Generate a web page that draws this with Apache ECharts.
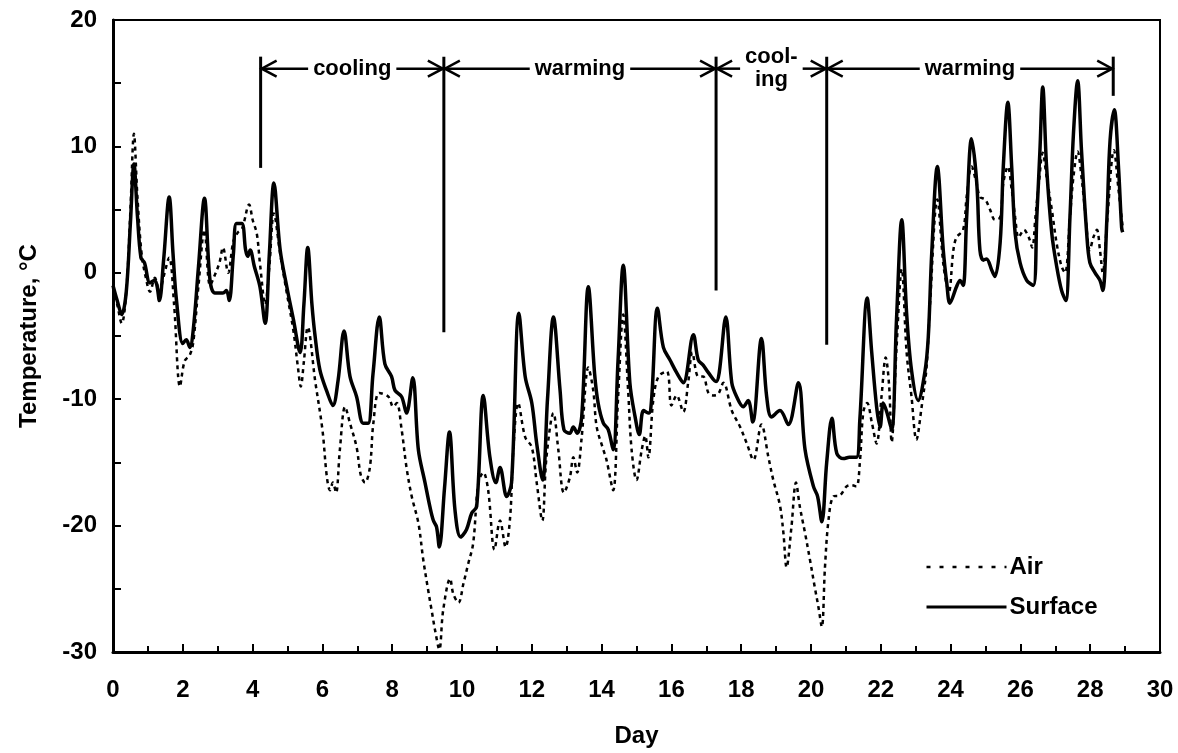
<!DOCTYPE html>
<html>
<head>
<meta charset="utf-8">
<script src="https://cdn.jsdelivr.net/npm/echarts@6/dist/echarts.min.js"></script>
<style>
html,body{margin:0;padding:0;background:#fff;}
#chart{width:1178px;height:753px;}
</style>
</head>
<body>
<div id="chart"></div>
<script>
// ---- Data ----
const surfaceDay = [0.00,0.12,0.25,0.38,0.50,0.60,0.70,0.80,0.90,1.06,1.18,1.25,1.33,1.45,1.61,1.72,1.82,2.00,2.10,2.20,2.30,2.45,2.62,2.78,2.92,3.15,3.25,3.33,3.45,3.54,3.69,3.80,3.86,3.93,4.05,4.21,4.36,4.48,4.61,4.79,4.98,5.17,5.36,5.47,5.58,5.70,5.79,5.93,6.13,6.30,6.45,6.62,6.79,6.98,7.17,7.31,7.45,7.63,7.79,7.98,8.08,8.27,8.41,8.59,8.75,8.94,9.08,9.18,9.27,9.35,9.50,9.64,9.80,9.96,10.13,10.28,10.42,10.61,10.80,10.97,11.09,11.28,11.42,11.63,11.81,12.00,12.14,12.31,12.45,12.62,12.81,12.92,13.09,13.19,13.30,13.43,13.62,13.80,13.90,14.05,14.19,14.33,14.47,14.62,14.81,14.96,15.08,15.20,15.35,15.43,15.60,15.77,15.96,16.15,16.34,16.63,16.77,16.91,17.06,17.28,17.37,17.56,17.73,17.87,18.06,18.20,18.33,18.58,18.73,18.87,19.11,19.35,19.64,19.83,20.07,20.19,20.31,20.45,20.60,20.74,20.93,21.10,21.30,21.40,21.61,21.74,21.88,21.98,22.07,22.17,22.31,22.45,22.60,22.74,22.88,23.07,23.26,23.36,23.46,23.62,23.79,23.89,23.98,24.17,24.27,24.36,24.46,24.60,24.75,24.84,24.94,25.03,25.18,25.27,25.42,25.51,25.64,25.75,25.85,25.99,26.18,26.37,26.47,26.56,26.64,26.75,26.90,27.04,27.18,27.30,27.42,27.52,27.64,27.75,27.90,27.99,28.14,28.28,28.36,28.48,28.57,28.69,28.81,28.90,28.93];
const surfaceTemp = [-1.0,-2.2,-3.3,-1.5,4.0,8.6,4.5,1.2,0.8,-0.8,-0.6,-0.9,-2.2,1.0,6.0,1.5,-2.2,-5.6,-5.3,-5.9,-4.5,0.5,5.9,-0.6,-1.6,-1.6,-1.4,-2.2,1.5,3.9,3.9,1.8,1.3,1.8,0.5,-1.1,-4.0,1.5,7.1,1.8,-1.1,-3.7,-6.3,-2.5,2.0,-2.5,-5.0,-7.7,-9.4,-10.5,-8.5,-4.6,-8.2,-9.8,-11.9,-11.9,-8.0,-3.5,-7.2,-8.2,-9.3,-9.8,-11.1,-8.3,-14.0,-16.6,-18.5,-19.6,-20.1,-21.7,-17.0,-12.6,-18.8,-20.9,-20.3,-19.0,-18.5,-9.7,-14.6,-16.6,-15.4,-17.7,-16.6,-3.2,-8.2,-10.3,-13.5,-16.4,-10.0,-3.5,-9.3,-12.4,-12.7,-12.2,-12.7,-11.4,-1.1,-8.0,-10.3,-11.9,-12.4,-14.0,-7.0,0.6,-8.7,-11.4,-12.8,-10.9,-11.1,-10.1,-2.8,-5.9,-6.9,-7.9,-8.7,-4.9,-6.9,-7.3,-7.9,-8.6,-7.9,-3.5,-8.7,-9.8,-10.6,-10.1,-11.8,-5.2,-9.8,-11.4,-10.9,-12.0,-8.7,-14.0,-16.9,-17.7,-19.7,-15.0,-11.5,-14.3,-14.7,-14.6,-14.6,-11.6,-2.0,-6.3,-10.6,-12.2,-10.3,-11.0,-12.4,-3.7,4.2,-3.2,-7.7,-10.1,-7.9,-5.1,1.6,8.4,1.8,-0.8,-2.4,-1.1,-0.6,-1.0,4.4,10.6,7.1,1.8,1.0,1.1,0.2,-0.3,2.4,8.4,13.5,8.4,3.1,0.8,-0.6,-1.0,4.4,9.7,14.7,8.4,3.1,0.5,-1.4,-2.2,4.4,11.0,15.2,9.7,3.1,0.8,0.0,-0.6,-1.4,4.4,10.5,12.9,8.4,3.6,3.2];

const airDay = [0.00,0.12,0.25,0.38,0.50,0.60,0.70,0.82,0.95,1.06,1.20,1.33,1.45,1.61,1.75,1.92,2.05,2.20,2.30,2.45,2.62,2.78,2.90,3.05,3.15,3.30,3.45,3.58,3.70,3.90,4.00,4.12,4.22,4.36,4.48,4.61,4.79,4.98,5.17,5.30,5.38,5.47,5.58,5.79,6.00,6.13,6.22,6.30,6.39,6.50,6.65,6.79,6.98,7.10,7.22,7.36,7.46,7.63,7.89,8.03,8.13,8.27,8.41,8.56,8.75,8.89,9.03,9.13,9.23,9.35,9.46,9.66,9.75,9.90,10.04,10.18,10.32,10.47,10.61,10.75,10.93,11.09,11.25,11.38,11.47,11.61,11.81,12.00,12.14,12.30,12.42,12.62,12.76,12.92,13.09,13.19,13.30,13.43,13.62,13.76,13.86,14.05,14.14,14.33,14.47,14.62,14.76,14.86,15.00,15.15,15.25,15.34,15.48,15.63,15.87,16.00,16.15,16.34,16.48,16.60,16.77,16.91,17.06,17.20,17.34,17.49,17.73,17.97,18.16,18.35,18.58,18.78,18.92,19.11,19.21,19.30,19.44,19.57,19.68,19.83,19.97,20.11,20.21,20.31,20.40,20.50,20.64,20.83,21.02,21.16,21.30,21.40,21.50,21.61,21.74,21.88,22.02,22.14,22.24,22.31,22.45,22.60,22.74,22.88,23.02,23.17,23.31,23.41,23.62,23.80,23.95,24.08,24.17,24.36,24.46,24.60,24.75,24.84,24.99,25.13,25.27,25.42,25.51,25.64,25.75,25.85,25.95,26.10,26.24,26.34,26.43,26.53,26.64,26.75,26.90,27.04,27.18,27.28,27.42,27.52,27.64,27.75,27.85,27.99,28.09,28.19,28.28,28.36,28.48,28.68,28.81,28.93];
const airTemp = [-1.2,-2.5,-4.0,-1.5,5.0,11.0,6.0,1.5,-0.5,-1.5,-0.4,-1.5,-0.3,1.2,-2.5,-9.0,-7.0,-6.5,-5.5,-1.0,3.4,-1.0,-0.3,0.8,2.0,0.0,2.5,3.2,3.5,5.4,4.2,3.1,0.5,-2.5,0.5,4.7,1.5,-1.6,-4.6,-7.5,-9.0,-7.0,-4.3,-8.5,-12.4,-16.2,-17.2,-16.6,-17.4,-14.0,-10.6,-11.9,-13.8,-16.0,-16.6,-15.4,-11.9,-9.5,-9.8,-10.6,-10.3,-12.4,-15.4,-17.7,-19.8,-22.7,-25.1,-26.7,-28.3,-29.8,-26.7,-24.2,-25.4,-26.1,-24.6,-23.0,-21.4,-16.6,-15.8,-17.2,-21.9,-19.6,-21.7,-19.3,-14.0,-10.3,-13.0,-13.8,-16.6,-19.6,-14.6,-11.1,-14.0,-17.4,-16.2,-14.6,-15.8,-13.0,-7.5,-9.3,-12.2,-14.0,-14.8,-17.2,-10.0,-3.3,-9.3,-14.0,-16.4,-14.0,-12.9,-14.6,-10.1,-8.2,-7.8,-10.5,-9.7,-11.0,-8.7,-6.3,-8.2,-8.2,-9.5,-9.7,-9.6,-8.7,-10.9,-12.2,-13.5,-14.8,-12.0,-14.6,-16.4,-18.4,-20.6,-23.3,-20.1,-16.6,-18.5,-20.6,-22.7,-24.9,-26.4,-28.0,-23.3,-19.6,-17.7,-17.6,-16.9,-16.8,-16.9,-15.0,-11.0,-10.3,-11.8,-13.5,-9.8,-6.7,-9.0,-13.4,-6.0,0.3,-6.3,-9.8,-13.2,-10.6,-7.5,-2.5,5.8,0.5,-1.5,1.8,2.8,3.4,6.0,8.4,7.0,6.0,5.8,5.0,4.2,4.4,7.1,8.4,6.6,4.4,2.8,3.4,2.8,2.0,4.4,7.1,9.5,7.6,5.0,2.3,0.5,0.0,4.4,7.6,9.6,7.6,5.0,1.8,2.8,3.4,1.8,0.0,3.9,9.7,6.6,3.6];

// period boundaries (day), bottom end of each boundary line (°C)
const phaseBoundaryDay = [4.23, 9.48, 17.28, 20.45, 28.66];
const phaseBoundaryBottom = [8.3, -4.7, -1.4, -5.7, 14.0];
const phaseBoundaryTop = 17.1;
const phaseArrowLevel = 16.15;
const phaseLabels = ['cooling', 'warming', 'cool-\ning', 'warming'];

const xTickLabels = ['0','2','4','6','8','10','12','14','16','18','20','22','24','26','28','30'];
const yTickLabels = ['-30','-20','-10','0','10','20'];
const seriesNames = ['Air', 'Surface'];
const axisTitles = { x: 'Day', y: 'Temperature, °C' };

// ---- Build chart ----
const FONT = '"Liberation Sans", Arial, Helvetica, sans-serif';
const zip = (a, b) => a.map((v, i) => [v, b[i]]);

const measureCanvas = document.createElement('canvas').getContext('2d');
function textWidth(str, size) {
  measureCanvas.font = 'bold ' + size + 'px ' + FONT;
  return Math.max.apply(null, str.split('\n').map(s => measureCanvas.measureText(s).width));
}

const boundaryData = phaseBoundaryDay.map((d, i) => [d, phaseBoundaryBottom[i], phaseBoundaryTop]);
const arrowData = phaseLabels.map((l, i) => [phaseBoundaryDay[i], phaseBoundaryDay[i + 1], phaseArrowLevel]);

const chart = echarts.init(document.getElementById('chart'), null, { renderer: 'canvas' });

const option = {
  animation: false,
  backgroundColor: '#ffffff',
  textStyle: { fontFamily: FONT, fontWeight: 'bold', color: '#000' },
  grid: {
    left: 113, right: 18, top: 20, bottom: 101,
    show: true, borderColor: '#000', borderWidth: 2, containLabel: false
  },
  legend: {
    data: [
      { name: seriesNames[0], lineStyle: { type: [4, 9], width: 2.5 } },
      { name: seriesNames[1], lineStyle: { width: 3 } }
    ],
    orient: 'vertical',
    left: 925, top: 555, padding: 0,
    itemWidth: 80, itemHeight: 14, itemGap: 16,
    itemStyle: { opacity: 0, borderWidth: 0 },
    textStyle: { fontSize: 24, fontWeight: 'bold', fontFamily: FONT, color: '#000', padding: [0, 0, 0, -2] }
  },
  xAxis: {
    type: 'value', min: 0, max: 30, interval: 2,
    name: axisTitles.x, nameLocation: 'middle', nameGap: 72,
    nameTextStyle: { fontSize: 24, fontWeight: 'bold', fontFamily: FONT, color: '#000' },
    axisLine: { show: true, onZero: false, lineStyle: { color: '#000', width: 3 } },
    axisTick: { show: true, inside: true, length: 8, lineStyle: { color: '#000', width: 2 } },
    minorTick: { show: true, splitNumber: 2, length: 6, lineStyle: { color: '#000', width: 2 } },
    axisLabel: {
      fontSize: 24, fontWeight: 'bold', fontFamily: FONT, color: '#000', margin: 26,
      formatter: v => xTickLabels[Math.round(v / 2)] || ''
    },
    splitLine: { show: false }
  },
  yAxis: {
    type: 'value', min: -30, max: 20, interval: 5,
    name: axisTitles.y, nameLocation: 'middle', nameGap: 72,
    nameTextStyle: { fontSize: 24, fontWeight: 'bold', fontFamily: FONT, color: '#000' },
    axisLine: { show: true, onZero: false, lineStyle: { color: '#000', width: 3 } },
    axisTick: { show: true, inside: true, length: 8, lineStyle: { color: '#000', width: 2 } },
    axisLabel: {
      fontSize: 24, fontWeight: 'bold', fontFamily: FONT, color: '#000', margin: 16,
      formatter: v => (v % 10 === 0 ? yTickLabels[(v + 30) / 10] : '')
    },
    splitLine: { show: false }
  },
  series: [
    {
      name: seriesNames[0], type: 'line', data: zip(airDay, airTemp),
      symbol: 'none', smooth: 0.35, z: 3,
      lineStyle: { color: '#000', width: 2.5, type: [4, 4] },
      itemStyle: { color: '#000' }
    },
    {
      name: seriesNames[1], type: 'line', data: zip(surfaceDay, surfaceTemp),
      symbol: 'none', smooth: 0.35, z: 4,
      lineStyle: { color: '#000', width: 3.5, type: 'solid' },
      itemStyle: { color: '#000' }
    },
    {
      type: 'custom', name: 'boundaries', data: boundaryData, z: 5, silent: true,
      encode: { x: 0, y: [1, 2] },
      renderItem: function (params, api) {
        const p1 = api.coord([api.value(0), api.value(1)]);
        const p2 = api.coord([api.value(0), api.value(2)]);
        return { type: 'line', shape: { x1: p1[0], y1: p1[1], x2: p2[0], y2: p2[1] },
                 style: { stroke: '#000', lineWidth: 3 } };
      }
    },
    {
      type: 'custom', name: 'phases', data: arrowData, z: 5, silent: true,
      encode: { x: [0, 1], y: 2 },
      renderItem: function (params, api) {
        const a = api.coord([api.value(0), api.value(2)]);
        const b = api.coord([api.value(1), api.value(2)]);
        const label = phaseLabels[params.dataIndex];
        const fs = 22;
        const w = textWidth(label, fs);
        const cx = (a[0] + b[0]) / 2, y = a[1];
        const pad = 5;
        const lx = cx - w / 2 - pad, rx = cx + w / 2 + pad;
        const ah = 16, aw = 8;
        const st = { stroke: '#000', lineWidth: 2.5, fill: null };
        return {
          type: 'group',
          children: [
            { type: 'line', shape: { x1: a[0], y1: y, x2: lx, y2: y }, style: st },
            { type: 'line', shape: { x1: rx, y1: y, x2: b[0], y2: y }, style: st },
            { type: 'polyline', shape: { points: [[a[0] + ah, y - aw], [a[0] + 1, y], [a[0] + ah, y + aw]] }, style: st },
            { type: 'polyline', shape: { points: [[b[0] - ah, y - aw], [b[0] - 1, y], [b[0] - ah, y + aw]] }, style: st },
            { type: 'text', x: cx, y: y,
              style: { text: label, fill: '#000', font: 'bold ' + fs + 'px ' + FONT,
                       align: 'center', verticalAlign: 'middle', lineHeight: 23 } }
          ]
        };
      }
    }
  ]
};
chart.setOption(option);
</script>
</body>
</html>
